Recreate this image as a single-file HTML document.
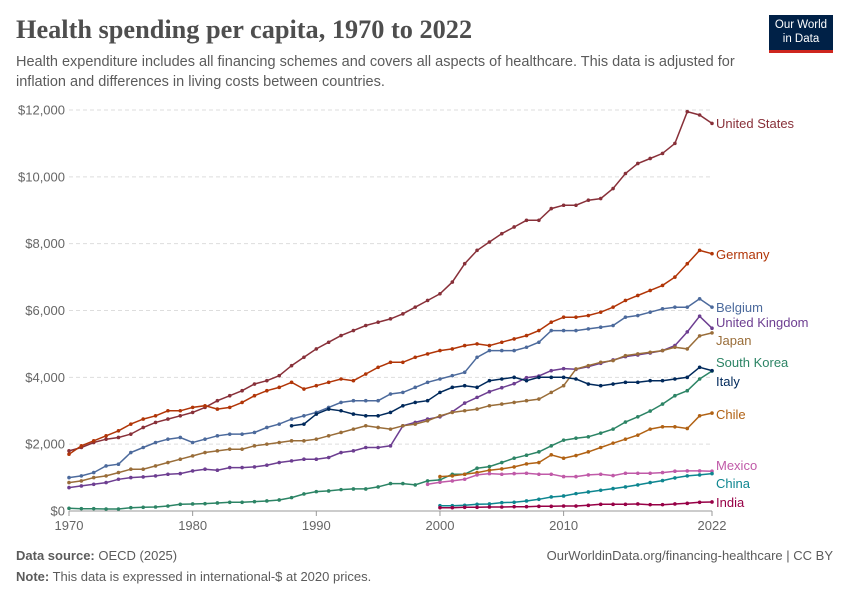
<!DOCTYPE html>
<html><head><meta charset="utf-8"><style>
body{margin:0;width:850px;height:600px;background:#fff;font-family:"Liberation Sans",sans-serif;position:relative;overflow:hidden}
.t{position:absolute;white-space:nowrap}
</style></head><body>
<div class="t" style="left:16px;top:15px;font-family:'Liberation Serif',serif;font-size:26.3px;color:#4e4e4e;font-weight:bold">Health spending per capita, 1970 to 2022</div>
<div class="t" style="left:16px;top:52px;font-size:14.5px;color:#5b5b5b;line-height:20px;white-space:normal;width:760px">Health expenditure includes all financing schemes and covers all aspects of healthcare. This data is adjusted for inflation and differences in living costs between countries.</div>
<div style="position:absolute;left:769px;top:15px;width:64px;height:38px;background:#002147;border-bottom:3px solid #ce261e;color:#fff;font-size:11.5px;line-height:14px;text-align:center;padding-top:3px;box-sizing:border-box">Our World<br>in Data</div>
<svg id="chart" width="850" height="600" style="position:absolute;left:0;top:0"></svg>
<div class="t" style="left:16px;top:548px;font-size:13px;color:#5b5b5b"><b>Data source:</b> OECD (2025)</div>
<div class="t" style="right:17px;top:548px;font-size:13px;color:#5b5b5b">OurWorldinData.org/financing-healthcare | CC BY</div>
<div class="t" style="left:16px;top:569px;font-size:13px;color:#5b5b5b"><b>Note:</b> This data is expressed in international-$ at 2020 prices.</div>
<script>
const yTicks=[0,2000,4000,6000,8000,10000,12000];
const xTicks=[1970,1980,1990,2000,2010,2022];
const usStart=1970, us=[1.8,1.9,2.05,2.15,2.2,2.3,2.5,2.65,2.75,2.85,2.95,3.1,3.3,3.45,3.6,3.8,3.9,4.05,4.35,4.6,4.85,5.05,5.25,5.4,5.55,5.65,5.75,5.9,6.1,6.3,6.5,6.85,7.4,7.8,8.05,8.3,8.5,8.7,8.7,9.05,9.15,9.15,9.3,9.35,9.65,10.1,10.4,10.55,10.7,11.0,11.95,11.85,11.6];
const deStart=1970, de=[1.7,1.95,2.1,2.25,2.4,2.6,2.75,2.85,3.0,3.0,3.1,3.15,3.05,3.1,3.25,3.45,3.6,3.7,3.85,3.65,3.75,3.85,3.95,3.9,4.1,4.3,4.45,4.45,4.6,4.7,4.8,4.85,4.95,5.0,4.95,5.05,5.15,5.25,5.4,5.65,5.8,5.8,5.85,5.95,6.1,6.3,6.45,6.6,6.75,7.0,7.4,7.8,7.7];
const beStart=1970, be=[1.0,1.05,1.15,1.35,1.4,1.75,1.9,2.05,2.15,2.2,2.05,2.15,2.25,2.3,2.3,2.35,2.5,2.6,2.75,2.85,2.95,3.1,3.25,3.3,3.3,3.3,3.5,3.55,3.7,3.85,3.95,4.05,4.15,4.6,4.8,4.8,4.8,4.9,5.05,5.4,5.4,5.4,5.45,5.5,5.55,5.8,5.85,5.95,6.05,6.1,6.1,6.35,6.1];
const ukStart=1970, uk=[0.7,0.75,0.8,0.85,0.95,1.0,1.02,1.05,1.1,1.12,1.2,1.25,1.22,1.3,1.3,1.32,1.37,1.45,1.5,1.55,1.55,1.6,1.75,1.8,1.9,1.9,1.95,2.55,2.65,2.75,2.82,2.97,3.23,3.4,3.57,3.69,3.81,3.99,4.04,4.2,4.26,4.24,4.32,4.42,4.52,4.62,4.67,4.73,4.8,4.95,5.36,5.83,5.47];
const jpStart=1970, jp=[0.85,0.9,1.0,1.05,1.15,1.25,1.25,1.35,1.45,1.55,1.65,1.75,1.8,1.85,1.85,1.95,2.0,2.05,2.1,2.1,2.15,2.25,2.35,2.45,2.55,2.5,2.45,2.55,2.6,2.7,2.85,2.95,3.0,3.05,3.15,3.2,3.25,3.3,3.35,3.55,3.75,4.25,4.35,4.45,4.5,4.65,4.7,4.75,4.8,4.9,4.85,5.24,5.33];
const krStart=1970, kr=[0.08,0.07,0.07,0.06,0.06,0.1,0.11,0.12,0.15,0.2,0.21,0.22,0.24,0.26,0.26,0.28,0.3,0.33,0.4,0.51,0.58,0.6,0.64,0.66,0.66,0.72,0.82,0.82,0.78,0.9,0.93,1.1,1.1,1.28,1.33,1.45,1.58,1.67,1.77,1.95,2.12,2.18,2.22,2.33,2.45,2.66,2.82,2.99,3.2,3.45,3.6,3.95,4.19];
const itStart=1988, it=[2.55,2.6,2.9,3.05,3.0,2.9,2.85,2.85,2.95,3.15,3.25,3.3,3.55,3.7,3.75,3.7,3.9,3.95,4.0,3.9,4.0,4.0,4.0,3.95,3.8,3.75,3.8,3.85,3.85,3.9,3.9,3.95,4.0,4.3,4.2];
const clStart=2000, cl=[1.03,1.05,1.1,1.15,1.22,1.26,1.32,1.41,1.45,1.68,1.58,1.66,1.77,1.9,2.03,2.15,2.27,2.45,2.52,2.52,2.47,2.85,2.93];
const mxStart=1999, mx=[0.8,0.86,0.9,0.95,1.08,1.12,1.1,1.12,1.13,1.1,1.1,1.03,1.03,1.08,1.1,1.06,1.13,1.13,1.13,1.15,1.19,1.2,1.2,1.19];
const cnStart=2000, cn=[0.16,0.16,0.17,0.2,0.21,0.25,0.26,0.3,0.35,0.42,0.45,0.52,0.57,0.62,0.67,0.72,0.78,0.85,0.91,0.99,1.05,1.08,1.12];
const inStart=2000, ind=[0.1,0.1,0.11,0.11,0.12,0.12,0.13,0.13,0.14,0.14,0.15,0.15,0.17,0.2,0.2,0.2,0.21,0.19,0.19,0.21,0.23,0.26,0.27];
const series=[
 ["United States",usStart,us,"#883039",123],["Germany",deStart,de,"#b13507",254],["Belgium",beStart,be,"#4c6a9c",307],
 ["United Kingdom",ukStart,uk,"#6d3e91",322],["Japan",jpStart,jp,"#996d39",340],["South Korea",krStart,kr,"#2c8465",362],
 ["Italy",itStart,it,"#00295b",381],["Chile",clStart,cl,"#b16214",414],["Mexico",mxStart,mx,"#c05aa8",465],
 ["China",cnStart,cn,"#0e8690",483],["India",inStart,ind,"#970046",502]];
const X=y=>69+(y-1970)*(712-69)/52;
const Y=v=>511-v*(511-110)/12000;
const svg=document.getElementById('chart');const NS="http://www.w3.org/2000/svg";
function mk(t,a){const e=document.createElementNS(NS,t);for(const k in a)e.setAttribute(k,a[k]);svg.appendChild(e);return e;}
yTicks.forEach(v=>{
 const g=mk('line',{x1:69,x2:712,y1:Y(v),y2:Y(v),stroke:'#ddd','stroke-dasharray':v?'4,3':'',});
 
 
 const t=mk('text',{x:65,y:Y(v)+4.5,'text-anchor':'end','font-size':13,fill:'#666','font-family':'Liberation Sans'});
 t.textContent=v===0?'$0':'$'+v.toLocaleString('en-US');
 
 
});
mk('line',{x1:69,x2:712,y1:511,y2:511,stroke:'#999'});
xTicks.forEach(y=>{
 mk('line',{x1:X(y),x2:X(y),y1:511,y2:516,stroke:'#999'});
 const t=mk('text',{x:X(y),y:530,'text-anchor':'middle','font-size':13,fill:'#666','font-family':'Liberation Sans'});
 t.textContent=y;
 
 
});
series.forEach(([name,start,vals,col,ly])=>{
 const pts=vals.map((v,i)=>X(start+i).toFixed(1)+','+Y(v*1000).toFixed(1)).join(' ');
 const p=mk('polyline',{points:pts,fill:'none',stroke:col,'stroke-width':1.5});
 
 
 vals.forEach((v,i)=>{const c=mk('circle',{cx:X(start+i),cy:Y(v*1000),r:1.8,fill:col});
  
  });
 const t=mk('text',{x:716,y:ly+5,'font-size':13,fill:col,'font-family':'Liberation Sans'});
 t.textContent=name;
 
 
});
</script>
</body></html>
